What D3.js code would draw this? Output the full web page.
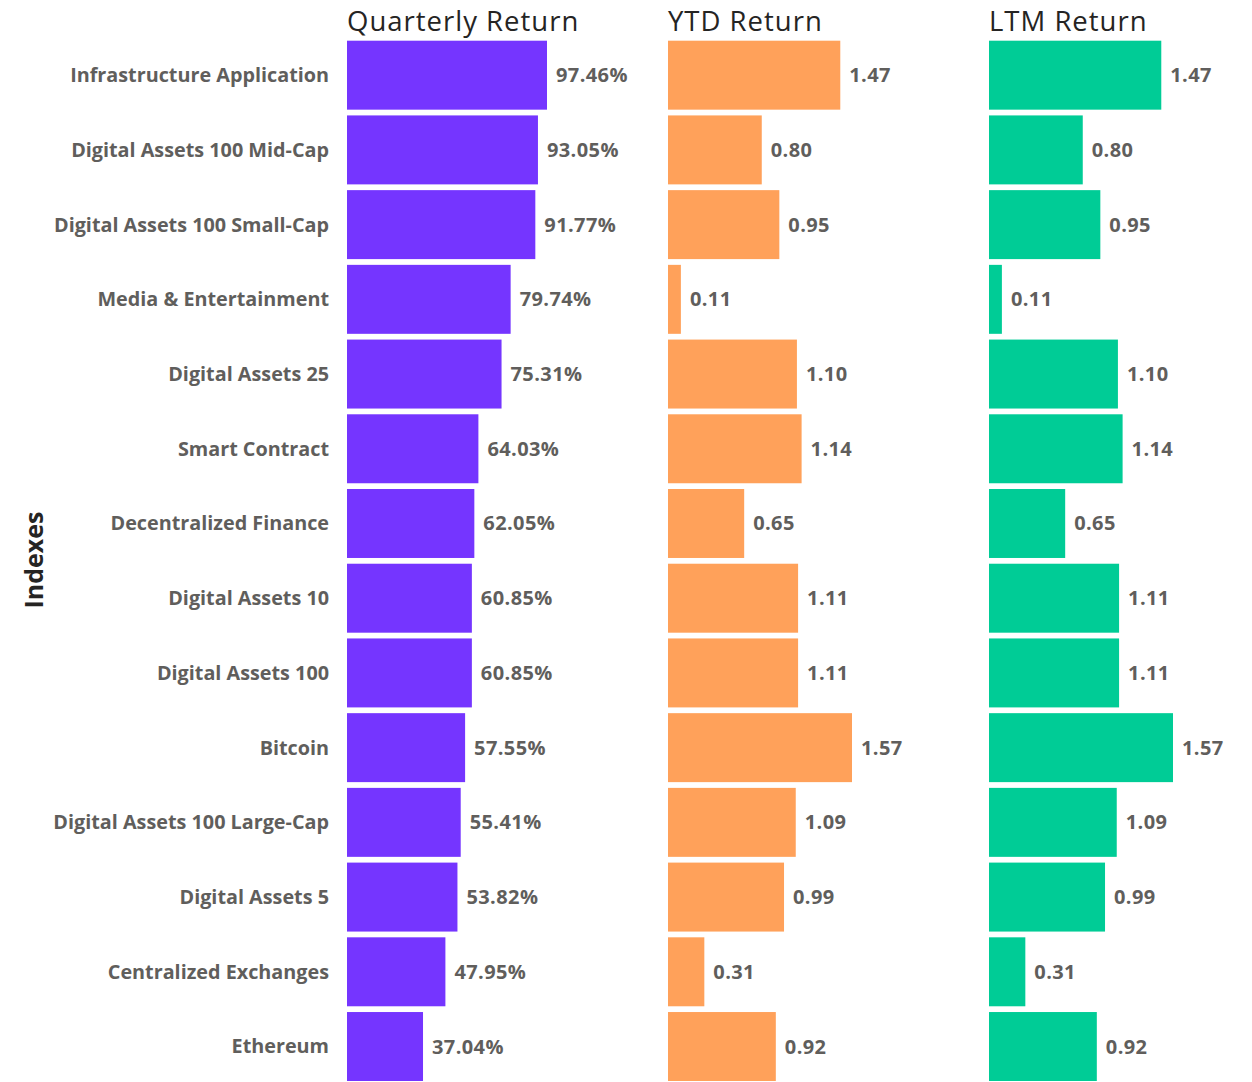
<!DOCTYPE html>
<html>
<head>
<meta charset="utf-8">
<script src="https://cdn.jsdelivr.net/npm/d3@7"></script>
<style>
  body { margin: 0; background: #fff; }
  svg text { font-family: "Open Sans", "Segoe UI", sans-serif; }
</style>
</head>
<body>
<svg id="chart" width="1252" height="1082"></svg>
<script>
// data
const indexes = [
    "Infrastructure Application", "Digital Assets 100 Mid-Cap", "Digital Assets 100 Small-Cap",
    "Media & Entertainment", "Digital Assets 25", "Smart Contract", "Decentralized Finance",
    "Digital Assets 10", "Digital Assets 100", "Bitcoin", "Digital Assets 100 Large-Cap",
    "Digital Assets 5", "Centralized Exchanges", "Ethereum"
];
const quarterlyReturn = [97.46, 93.05, 91.77, 79.74, 75.31, 64.03, 62.05, 60.85, 60.85, 57.55, 55.41, 53.82, 47.95, 37.04];
const ytdReturn = [1.47, 0.80, 0.95, 0.11, 1.10, 1.14, 0.65, 1.11, 1.11, 1.57, 1.09, 0.99, 0.31, 0.92];
const ltmReturn = [1.47, 0.80, 0.95, 0.11, 1.10, 1.14, 0.65, 1.11, 1.11, 1.57, 1.09, 0.99, 0.31, 0.92];
const panelTitles = ["Quarterly Return", "YTD Return", "LTM Return"];

const svg = d3.select("#chart");

const y = d3.scaleBand()
    .domain(indexes)
    .range([40.7, 1081])
    .paddingInner(0.077)
    .paddingOuter(0);

const panels = [
    { title: panelTitles[0], values: quarterlyReturn, x0: 347, width: 200, color: "#7535FF", fmt: d => d3.format(".2f")(d) + "%" },
    { title: panelTitles[1], values: ytdReturn, x0: 668, width: 184, color: "#FFA15A", fmt: d3.format(".2f") },
    { title: panelTitles[2], values: ltmReturn, x0: 989, width: 184, color: "#00CC96", fmt: d3.format(".2f") }
];

// category labels
svg.append("g").selectAll("text")
    .data(indexes)
    .join("text")
    .attr("x", 329)
    .attr("y", d => y(d) + y.bandwidth() / 2)
    .attr("dy", "0.35em")
    .attr("text-anchor", "end")
    .attr("font-size", "19.8px")
    .attr("font-weight", 700)
    .attr("fill", "#605E5C")
    .text(d => d);

// axis title
svg.append("text")
    .attr("transform", "translate(43,560) rotate(-90)")
    .attr("text-anchor", "middle")
    .attr("font-size", "25px")
    .attr("font-weight", 700)
    .attr("fill", "#252423")
    .text("Indexes");

panels.forEach(p => {
    const x = d3.scaleLinear()
        .domain([0, d3.max(p.values)])
        .range([0, p.width]);

    const g = svg.append("g").attr("transform", `translate(${p.x0},0)`);

    g.append("text")
        .attr("x", 0)
        .attr("y", 30.5)
        .attr("font-size", "27.5px")
        .attr("letter-spacing", "1px")
        .attr("font-weight", 400)
        .attr("fill", "#252423")
        .text(p.title);

    const rows = indexes.map((name, i) => ({ name, value: p.values[i] }));

    g.selectAll("rect")
        .data(rows)
        .join("rect")
        .attr("x", 0)
        .attr("y", d => y(d.name))
        .attr("width", d => x(d.value))
        .attr("height", y.bandwidth())
        .attr("fill", p.color);

    g.selectAll("text.value")
        .data(rows)
        .join("text")
        .attr("class", "value")
        .attr("x", d => x(d.value) + 9)
        .attr("y", d => y(d.name) + y.bandwidth() / 2)
        .attr("dy", "0.35em")
        .attr("font-size", "20px")
        .attr("letter-spacing", "0.4px")
        .attr("font-weight", 700)
        .attr("fill", "#605E5C")
        .text(d => p.fmt(d.value));
});
</script>
</body>
</html>
